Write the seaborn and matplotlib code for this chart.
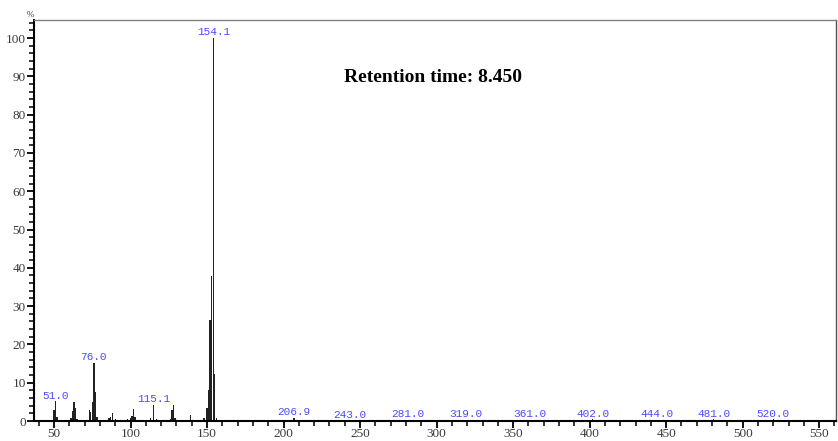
import matplotlib
matplotlib.use("Agg")
import matplotlib.pyplot as plt
import seaborn as sns
import pandas as pd
import numpy as np
from matplotlib.ticker import MultipleLocator

# ---- data ----
mz = [50, 51, 52, 61, 62, 63, 64, 65, 73, 74, 75, 76, 77, 78,
      86, 87, 88, 90, 98, 100, 101, 102, 103, 113, 115, 117,
      126, 127, 128, 129, 139, 148, 150, 151, 152, 153, 154, 155, 156,
      206.9, 243.0, 281.0, 319.0, 361.0, 402.0, 444.0, 481.0, 520.0]
intensity = [3.0, 5.1, 1.1, 0.8, 2.5, 4.9, 3.3, 0.6, 2.9, 2.4, 5.0, 15.2, 7.7, 1.0,
             0.7, 1.1, 2.2, 0.4, 0.6, 0.7, 1.3, 3.1, 1.0, 0.9, 4.3, 0.4,
             0.4, 3.0, 4.2, 0.7, 1.6, 0.9, 3.5, 8.0, 26.5, 37.8, 100.0, 12.2, 0.8,
             0.9, 0.2, 0.3, 0.3, 0.3, 0.4, 0.3, 0.4, 0.4]
label_mz = [51.0, 76.0, 115.1, 154.1, 206.9, 243.0, 281.0, 319.0, 361.0,
            402.0, 444.0, 481.0, 520.0]
label_peak = [51, 76, 115, 154, 206.9, 243.0, 281.0, 319.0, 361.0,
              402.0, 444.0, 481.0, 520.0]
x_ticks = [50, 100, 150, 200, 250, 300, 350, 400, 450, 500, 550]
y_ticks = [0, 10, 20, 30, 40, 50, 60, 70, 80, 90, 100]
title_text = "Retention time: 8.450"

df = pd.DataFrame({"mz": mz, "intensity": intensity})

sns.set_theme(style="white")
plt.rcParams["font.family"] = ["Liberation Serif", "DejaVu Serif"]

fig = plt.figure(figsize=(8.38, 4.41), dpi=100)
ax = fig.add_axes([34 / 838, 20 / 441, (836 - 34) / 838, (421 - 20) / 441])

sns.barplot(data=df, x="mz", y="intensity", native_scale=True, width=0.9,
            color="#222222", saturation=1, edgecolor="none", linewidth=0, ax=ax)

ax.set_xlim(36.9, 561)
ax.set_ylim(0, 104.7)
ax.set_xlabel("")
ax.set_ylabel("")

ax.set_xticks(x_ticks)
ax.set_xticklabels([str(t) for t in x_ticks])
ax.set_yticks(y_ticks)
ax.set_yticklabels([str(t) for t in y_ticks])
ax.xaxis.set_minor_locator(MultipleLocator(10))
ax.yaxis.set_minor_locator(MultipleLocator(2))
ax.tick_params(axis="both", which="major", direction="out", length=5, width=1.3,
               color="black", labelsize=9.5, labelcolor="#3a3a3a")
ax.tick_params(axis="x", which="major", pad=0)
ax.tick_params(axis="y", which="major", pad=1)
ax.tick_params(axis="both", which="minor", direction="out", length=3.5, width=1.1,
               color="black")
ax.tick_params(axis="x", which="both", bottom=True)
ax.tick_params(axis="y", which="both", left=True)

for s in ["left", "bottom"]:
    ax.spines[s].set_color("black")
    ax.spines[s].set_linewidth(1.5)
ax.spines["top"].set_color("#808080")
ax.spines["top"].set_linewidth(1.0)
ax.spines["right"].set_color("#505050")
ax.spines["right"].set_linewidth(1.0)
ax.grid(False)

# peak labels
peak_map = dict(zip(mz, intensity))
for lab, pk in zip(label_mz, label_peak):
    ax.annotate(f"{lab:.1f}", xy=(lab, peak_map[pk]), xytext=(0, 0.5),
                textcoords="offset points", ha="center", va="bottom",
                fontsize=8, color="#4b4bff", family=["Liberation Mono", "DejaVu Sans Mono"])

fig.text(433 / 838, 1 - 77 / 441, title_text, ha="center",
         va="center", fontsize=14, fontweight="bold", color="black")
fig.text(30 / 838, 1 - 15 / 441, "%", ha="center", va="center", fontsize=6.5,
         color="#3a3a3a")

fig.savefig("out.png", dpi=100)
